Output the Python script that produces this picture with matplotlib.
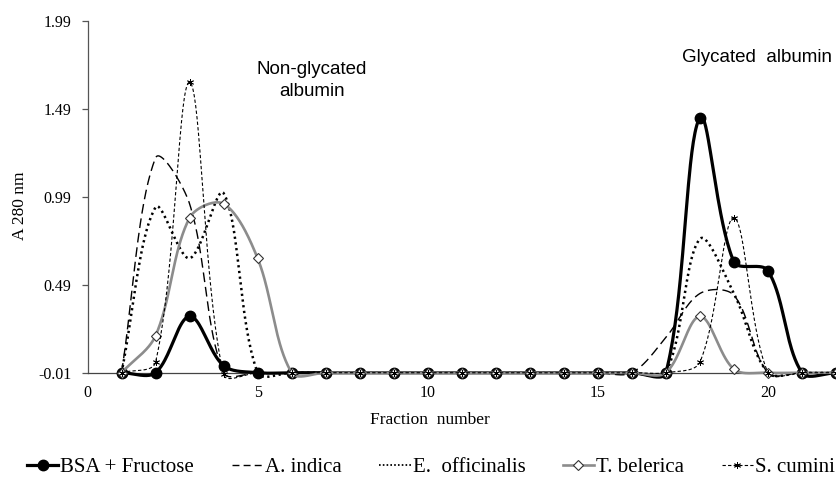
import matplotlib
matplotlib.use("Agg")
import matplotlib.pyplot as plt
import numpy as np

# data (fractions 1..22)
fractions = list(range(1, 23))
bsa = [-0.01, -0.01, 0.31, 0.03, -0.01] + [-0.01] * 12 + [1.44, 0.62, 0.57, -0.01, -0.01]
a_indica = [-0.01, 1.21, 0.95, -0.01, -0.01] + [-0.01] * 11 + [0.19, 0.44, 0.43, -0.01, -0.01, -0.01]
e_officinalis = [-0.01, 0.93, 0.64, 1.01, -0.01] + [-0.01] * 12 + [0.75, 0.44, -0.01, -0.01, -0.01]
t_belerica = [-0.01, 0.20, 0.87, 0.95, 0.64, -0.01] + [-0.01] * 11 + [0.31, 0.01, -0.01, -0.01, -0.01]
s_cumini = [-0.01, 0.05, 1.64, -0.02, -0.01] + [-0.01] * 12 + [0.05, 0.87, -0.01, -0.01, -0.01]

labels = ["BSA + Fructose", "A. indica", "E.  officinalis", "T. belerica", "S. cumini"]
yticks = [-0.01, 0.49, 0.99, 1.49, 1.99]
xticks = [0, 5, 10, 15, 20]

serif = "Liberation Serif"
sans = "Liberation Sans"

# approximate pixels per data unit, used so the smoothing behaves like Excel's
XS, YS = 34.0, 176.0


def smooth(x, y, n=40):
    # Excel-style smoothed line: Bezier segments, tangents weighted by segment lengths
    p = np.column_stack([np.asarray(x, float) * XS, np.asarray(y, float) * YS])
    m = len(p)
    seg = np.hypot(*np.diff(p, axis=0).T)
    t = np.linspace(0, 1, n)[:, None]
    out = []
    for i in range(m - 1):
        prev = p[i - 1] if i > 0 else p[i]
        nxt2 = p[i + 2] if i + 2 < m else p[i + 1]
        l0 = seg[i - 1] if i > 0 else 0.0
        l2 = seg[i + 1] if i + 2 < m else 0.0
        l1 = seg[i]
        d1 = p[i + 1] - prev
        d2 = nxt2 - p[i]
        c1 = p[i] + d1 * (l1 / (l0 + l1)) / 3
        c2 = p[i + 1] - d2 * (l1 / (l1 + l2)) / 3
        b = (1 - t) ** 3 * p[i] + 3 * (1 - t) ** 2 * t * c1 + 3 * (1 - t) * t ** 2 * c2 + t ** 3 * p[i + 1]
        out.append(b)
    out = np.vstack(out)
    return out[:, 0] / XS, out[:, 1] / YS


fig = plt.figure(figsize=(8.37, 4.78), dpi=100)
ax = fig.add_axes([87.5 / 837, 105.3 / 478, 1 - 87.5 / 837, 352 / 478])

handles = []

# BSA + Fructose
sx, sy = smooth(fractions, bsa)
ax.plot(sx, sy, color="black", lw=2.3, zorder=3, clip_on=False)
ax.plot(fractions, bsa, "o", color="black", ms=7.5, zorder=3, clip_on=False)
handles.append(plt.Line2D([], [], color="black", lw=2.3, marker="o", ms=7.5))

# A. indica
sx, sy = smooth(fractions, a_indica)
ax.plot(sx, sy, color="black", lw=1.0, dashes=(7, 3.5), zorder=4, clip_on=False)
handles.append(plt.Line2D([], [], color="black", lw=1.0, dashes=(5, 3)))

# E. officinalis
sx, sy = smooth(fractions, e_officinalis)
ax.plot(sx, sy, color="black", lw=1.8, linestyle=(0, (0.9, 1.4)), zorder=5, clip_on=False)
handles.append(plt.Line2D([], [], color="black", lw=1.3, linestyle=(0, (0.9, 1.2))))

# T. belerica
sx, sy = smooth(fractions, t_belerica)
ax.plot(sx, sy, color="#8c8c8c", lw=1.9, zorder=6, clip_on=False)
ax.plot(fractions, t_belerica, "D", mfc="white", mec="#333333", mew=0.8, ms=5, zorder=6, clip_on=False)
handles.append(plt.Line2D([], [], color="#8c8c8c", lw=1.9, marker="D", mfc="white",
                          mec="#333333", mew=0.8, ms=5))

# S. cumini
sx, sy = smooth(fractions, s_cumini)
ax.plot(sx, sy, color="black", lw=0.8, dashes=(3, 2), zorder=7, clip_on=False)
ax.plot(fractions, s_cumini, marker=(6, 2, 0), ls="none", color="black", mew=0.6, ms=5,
        zorder=7, clip_on=False)
handles.append(plt.Line2D([], [], color="black", lw=0.8, dashes=(3, 2), marker=(6, 2, 0),
                          mew=0.6, ms=5))

ax.set_xlim(0, 22.03)
ax.set_ylim(-0.01, 1.99)
ax.set_xticks(xticks)
ax.set_yticks(yticks)
ax.set_yticklabels(["%.2f" % v for v in yticks])
for s in ["top", "right"]:
    ax.spines[s].set_visible(False)
ax.spines["left"].set_color("#555555")
ax.spines["bottom"].set_color("#444444")
ax.spines["left"].set_linewidth(0.9)
ax.spines["bottom"].set_linewidth(0.9)
ax.tick_params(axis="y", direction="out", length=4.5, width=0.9, color="#555555", pad=7,
               labelsize=11.5)
ax.tick_params(axis="x", length=0, pad=8.5, labelsize=11.5)
for lab in ax.get_xticklabels() + ax.get_yticklabels():
    lab.set_fontfamily(serif)

fig.text(20 / 837, 1 - 206 / 478, "A 280 nm", rotation=90, ha="center", va="center",
         fontsize=12.5, family=serif)
fig.text(430 / 837, 1 - 420 / 478, "Fraction  number", ha="center", va="center",
         fontsize=12.5, family=serif)

fig.text(312 / 837, 1 - 70 / 478, "Non-glycated", ha="center", va="center", fontsize=13.5,
         family=sans)
fig.text(312 / 837, 1 - 92 / 478, "albumin", ha="center", va="center", fontsize=13.5,
         family=sans)
fig.text(757 / 837, 1 - 58 / 478, "Glycated  albumin", ha="center", va="center",
         fontsize=13.5, family=sans)

fig.legend(handles, labels, loc="center", bbox_to_anchor=(431 / 837, 1 - 467 / 478),
           ncol=5, frameon=False, prop={"family": serif, "size": 15},
           handlelength=1.5, handletextpad=0.1, columnspacing=1.8, borderaxespad=0,
           borderpad=0)

fig.savefig("out.png", dpi=100)
